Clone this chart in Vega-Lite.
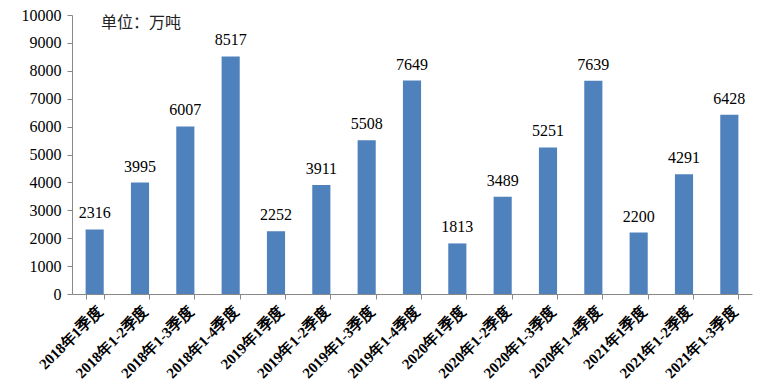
{
  "$schema": "https://vega.github.io/schema/vega-lite/v6.json",
  "width": 680,
  "height": 279,
  "autosize": {"type": "none"},
  "padding": {"left": 72, "top": 15, "right": 8, "bottom": 95},
  "background": "white",
  "title": {
    "text": "单位：万吨",
    "anchor": "start",
    "frame": "group",
    "orient": "top",
    "offset": -24,
    "dx": 29,
    "font": "Noto Sans CJK SC",
    "fontSize": 16,
    "fontWeight": "normal",
    "color": "#222"
  },
  "data": {
    "values": [
      {"period": "2018年1季度", "value": 2316},
      {"period": "2018年1-2季度", "value": 3995},
      {"period": "2018年1-3季度", "value": 6007},
      {"period": "2018年1-4季度", "value": 8517},
      {"period": "2019年1季度", "value": 2252},
      {"period": "2019年1-2季度", "value": 3911},
      {"period": "2019年1-3季度", "value": 5508},
      {"period": "2019年1-4季度", "value": 7649},
      {"period": "2020年1季度", "value": 1813},
      {"period": "2020年1-2季度", "value": 3489},
      {"period": "2020年1-3季度", "value": 5251},
      {"period": "2020年1-4季度", "value": 7639},
      {"period": "2021年1季度", "value": 2200},
      {"period": "2021年1-2季度", "value": 4291},
      {"period": "2021年1-3季度", "value": 6428}
    ]
  },
  "encoding": {
    "x": {
      "field": "period",
      "type": "nominal",
      "sort": null,
      "scale": {"paddingInner": 0.6, "paddingOuter": 0.3},
      "axis": {
        "title": null,
        "labelAngle": -45,
        "labelAlign": "right",
        "labelBaseline": "top",
        "labelFont": "'Liberation Serif', serif",
        "labelFontSize": 15,
        "labelFontWeight": "bold",
        "labelColor": "#000",
        "labelPadding": 4,
        "labelLimit": 200,
        "tickBand": "extent",
        "tickSize": 5,
        "tickColor": "#888",
        "domainColor": "#888"
      }
    },
    "y": {
      "field": "value",
      "type": "quantitative",
      "scale": {"domain": [0, 10000]},
      "axis": {
        "title": null,
        "values": [0,1000,2000,3000,4000,5000,6000,7000,8000,9000,10000],
        "format": "d",
        "grid": false,
        "labelFont": "'Liberation Serif', serif",
        "labelFontSize": 16,
        "labelColor": "#000",
        "labelPadding": 6,
        "tickSize": 5,
        "tickColor": "#888",
        "domainColor": "#888"
      }
    }
  },
  "layer": [
    {"mark": {"type": "bar", "color": "#4F81BD"}},
    {
      "mark": {"type": "text", "baseline": "bottom", "dy": -8, "font": "'Liberation Serif', serif", "fontSize": 16, "color": "#000"},
      "encoding": {"text": {"field": "value", "type": "quantitative", "format": "d"}}
    }
  ],
  "config": {"view": {"stroke": null}}
}
